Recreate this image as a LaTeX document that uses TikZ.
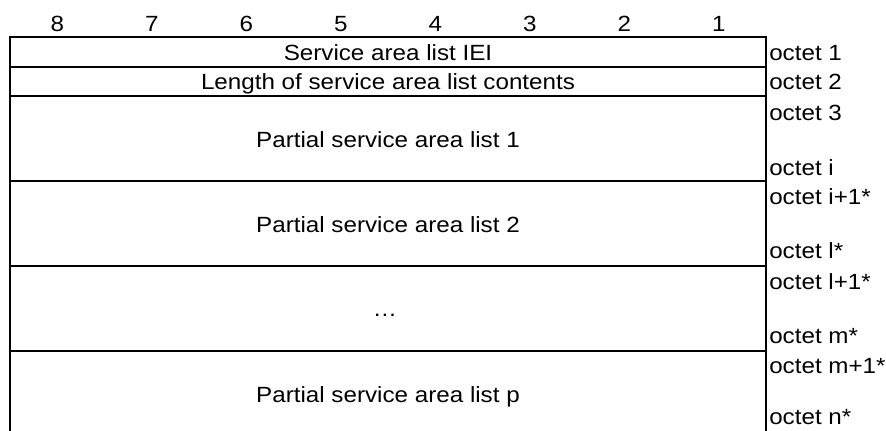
\documentclass[tikz,border=0pt]{standalone}
\usepackage{fontspec}
\setmainfont{Liberation Sans}[FakeStretch=1.1]
\begin{document}
\begin{tikzpicture}[x=0.75pt,y=-0.75pt,
  txt/.style={inner sep=0pt,anchor=base,font=\fontsize{16.5pt}{19pt}\selectfont},
  oct/.style={inner sep=0pt,anchor=base west,font=\fontsize{16.5pt}{19pt}\selectfont},
  rule/.style={line width=1.7pt}]
\useasboundingbox (0,0) rectangle (886,430);
% bit numbers
\foreach \b [count=\i from 0] in {8,7,6,5,4,3,2,1}
  \node[txt] (b\b) at ({10+47.25+94.5*\i},31) {\b};
% frame
\draw[rule] (10,445) -- (10,37) -- (766,37) -- (766,445);
\foreach \yy in {67,96,181,266,351}
  \draw[rule] (10,\yy) -- (766,\yy);
% contents
\node[txt] (iei) at (388,60) {Service area list IEI};
\node[txt] (len) at (388,89) {Length of service area list contents};
\node[txt] (p1) at (388,147) {Partial service area list 1};
\node[txt] (p2) at (388,232) {Partial service area list 2};
\node[txt] (dots) at (385,316) {\dots};
\node[txt] (pp) at (388,402) {Partial service area list p};
% octet labels
\node[oct] (o1) at (769,60) {octet 1};
\node[oct] (o2) at (769,89) {octet 2};
\node[oct] (o3) at (769,120) {octet 3};
\node[oct] (oi) at (769,175) {octet i};
\node[oct] (oi1) at (769,204) {octet i+1*};
\node[oct] (ol) at (769,258) {octet l*};
\node[oct] (ol1) at (769,289) {octet l+1*};
\node[oct] (om) at (769,343) {octet m*};
\node[oct] (om1) at (769,373) {octet m+1*};
\node[oct] (on) at (769,424) {octet n*};
\end{tikzpicture}
\end{document}
